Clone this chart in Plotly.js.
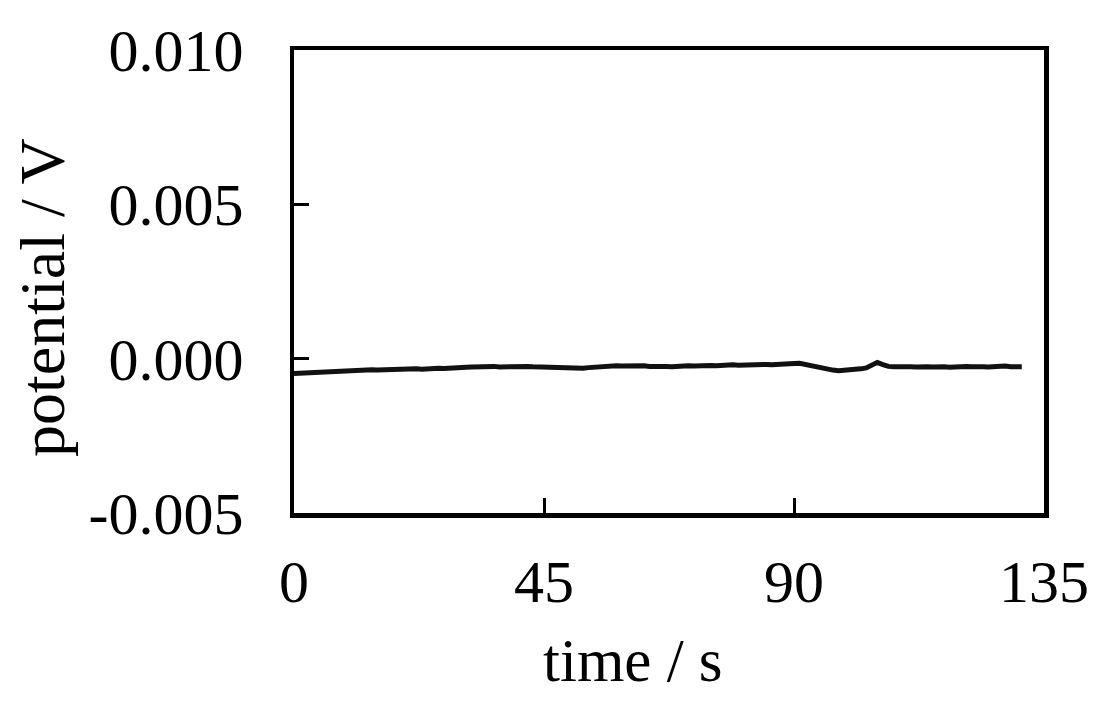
<!DOCTYPE html>
<html>
<head>
<meta charset="utf-8">
<script src="https://cdn.plot.ly/plotly-3.0.1.min.js"></script>
<style>
  html, body { margin: 0; padding: 0; background: #fff; }
  #plot { width: 1096px; height: 704px; }
</style>
</head>
<body>
<div id="plot"></div>
<script>
// time in s
const timeS = [
  0, 1, 2, 3, 4, 5, 6, 7, 8, 9, 10, 11, 12, 13, 14, 15, 16, 17, 18, 19,
  20, 21, 22, 23, 24, 25, 26, 27, 28, 29, 30, 31, 32, 33, 34, 35, 36, 37, 38, 39,
  40, 41, 42, 43, 44, 45, 46, 47, 48, 49, 50, 51, 52, 53, 54, 55, 56, 57, 58, 59,
  60, 61, 62, 63, 64, 65, 66, 67, 68, 69, 70, 71, 72, 73, 74, 75, 76, 77, 78, 79,
  80, 81, 82, 83, 84, 85, 86, 87, 88, 89, 90, 91, 92, 93, 94, 95, 96, 97, 98, 99,
  100, 101, 102, 103, 104, 105, 106, 107, 108, 109, 110, 111, 112, 113, 114, 115, 116, 117, 118, 119,
  120, 121, 122, 123, 124, 125, 126, 127, 128, 129, 130, 131
];

// potential in V
const potentialV = [
  -0.00048, -0.00047, -0.00045, -0.00046, -0.00044, -0.00043, -0.00042, -0.00041, -0.00039, -0.00040,
  -0.00038, -0.00039, -0.00037, -0.00038, -0.00036, -0.00037, -0.00036, -0.00037, -0.00035, -0.00036,
  -0.00034, -0.00035, -0.00033, -0.00034, -0.00032, -0.00033, -0.00031, -0.00032, -0.00030, -0.00029,
  -0.00030, -0.00028, -0.00027, -0.00026, -0.00028, -0.00027, -0.00025, -0.00027, -0.00026, -0.00025,
  -0.00026, -0.00027, -0.00025, -0.00026, -0.00027, -0.00026, -0.00028, -0.00027, -0.00029, -0.00028,
  -0.00030, -0.00031, -0.00031, -0.00029, -0.00027, -0.00026, -0.00024, -0.00025, -0.00023, -0.00024,
  -0.00023, -0.00022, -0.00024, -0.00023, -0.00025, -0.00024, -0.00026, -0.00025, -0.00026, -0.00024,
  -0.00025, -0.00023, -0.00024, -0.00022, -0.00023, -0.00022, -0.00023, -0.00021, -0.00022, -0.00020,
  -0.00021, -0.00020, -0.00021, -0.00019, -0.00020, -0.00019, -0.00020, -0.00018, -0.00019, -0.00017,
  -0.00016, -0.00015, -0.00019, -0.00024, -0.00028, -0.00031, -0.00034, -0.00037, -0.00039, -0.00038,
  -0.00036, -0.00035, -0.00033, -0.00030, -0.00022, -0.00012, -0.00019, -0.00025, -0.00026, -0.00025,
  -0.00027, -0.00026, -0.00027, -0.00025, -0.00026, -0.00027, -0.00025, -0.00026, -0.00028, -0.00026,
  -0.00027, -0.00025, -0.00026, -0.00028, -0.00026, -0.00027, -0.00025, -0.00026, -0.00024, -0.00026,
  -0.00025, -0.00026
];

const xTicks = [0, 45, 90, 135];
const yTicks = [-0.005, 0.000, 0.005, 0.010];
const yTickText = ['-0.005', '0.000', '0.005', '0.010'];

const font = 'Liberation Serif, Times New Roman, serif';

const trace = {
  x: timeS,
  y: potentialV,
  mode: 'lines',
  type: 'scatter',
  line: { color: '#111111', width: 5 },
  hoverinfo: 'skip'
};

const axisBase = {
  ticks: 'inside',
  ticklen: 15,
  tickwidth: 3,
  tickcolor: '#000000',
  showgrid: false,
  zeroline: false,
  showline: true,
  linewidth: 4.5,
  linecolor: '#000000',
  mirror: true,
  tickfont: { family: font, size: 60, color: '#000000' }
};

const layout = {
  width: 1096,
  height: 704,
  margin: { l: 294, r: 52, t: 50, b: 191 },
  paper_bgcolor: '#ffffff',
  plot_bgcolor: '#ffffff',
  showlegend: false,
  font: { family: font, color: '#000000', size: 60 },
  xaxis: Object.assign({}, axisBase, {
    range: [0, 135],
    tickvals: xTicks,
    ticktext: xTicks.map(String),
    ticklabelstandoff: 12
  }),
  yaxis: Object.assign({}, axisBase, {
    range: [-0.005, 0.010],
    tickvals: yTicks,
    ticktext: yTickText,
    ticklabelstandoff: 34
  }),
  annotations: [{
    text: 'potential / V',
    textangle: -90,
    xref: 'paper',
    yref: 'paper',
    x: (42 - 294) / 750,
    y: (513 - 297) / 463,
    xanchor: 'center',
    yanchor: 'middle',
    showarrow: false,
    font: { family: font, size: 64, color: '#000000' }
  }, {
    text: 'time / s',
    xref: 'paper',
    yref: 'paper',
    x: (633 - 294) / 750,
    y: (513 - 660) / 463,
    xanchor: 'center',
    yanchor: 'middle',
    showarrow: false,
    font: { family: font, size: 61, color: '#000000' }
  }]
};

Plotly.newPlot('plot', [trace], layout, { displayModeBar: false, staticPlot: true });
</script>
</body>
</html>
